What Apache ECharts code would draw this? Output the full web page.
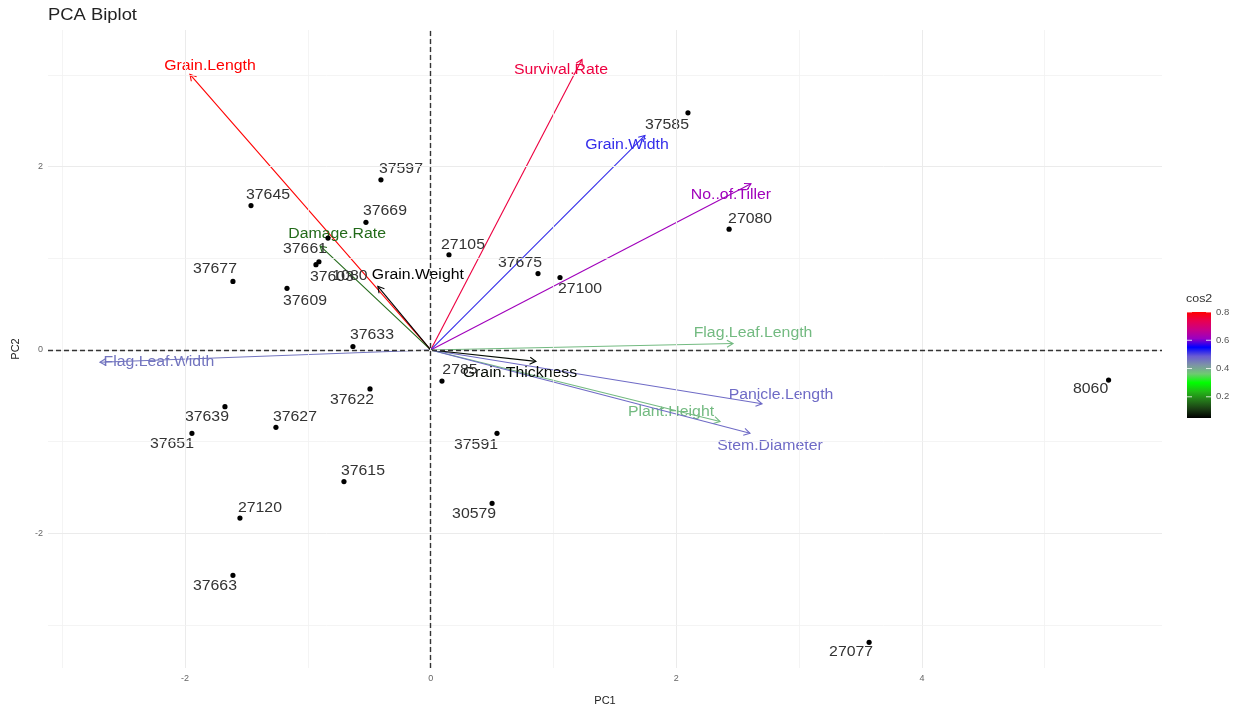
<!DOCTYPE html>
<html>
<head>
<meta charset="utf-8">
<title>PCA Biplot</title>
<script src="https://cdn.jsdelivr.net/npm/echarts@6/dist/echarts.min.js"></script>
<style>
  html, body { margin: 0; padding: 0; background: #ffffff; overflow: hidden; }
  #chart { width: 1241px; height: 711px; }
</style>
</head>
<body>
<div id="chart"></div>
<script>
// ---- Individuals (genotypes): scores on PC1 / PC2 ----
const genotypes = ['37585', '27080', '37675', '27100', '27105', '37597', '37669', '37645', '37661',
  '37603', '1080', '37677', '37609', '37633', '37622', '37639', '37627', '37651', '37615', '27120',
  '37663', '2785', '37591', '30579', '8060', '27077'];
const indPC1 = [2.095, 2.43, 0.874, 1.053, 0.149, -0.405, -0.527, -1.463, -0.836,
  -0.934, -0.91, -1.61, -1.17, -0.633, -0.494, -1.675, -1.26, -1.944, -0.706, -1.553,
  -1.61, 0.092, 0.54, 0.5, 5.52, 3.57];
const indPC2 = [2.586, 1.317, 0.833, 0.79, 1.038, 1.855, 1.392, 1.575, 1.22,
  0.93, 0.962, 0.747, 0.672, 0.038, -0.425, -0.618, -0.844, -0.909, -1.435, -1.833,
  -2.457, -0.339, -0.909, -1.672, -0.328, -3.188];

// ---- Variables: scaled loadings and quality of representation (cos2) ----
const variables = ['Grain.Length', 'Survival.Rate', 'Grain.Width', 'No..of.Tiller', 'Flag.Leaf.Length',
  'Panicle.Length', 'Plant.Height', 'Stem.Diameter', 'Grain.Thickness', 'Flag.Leaf.Width',
  'Damage.Rate', 'Grain.Weight'];
const varPC1 = [-1.96, 1.232, 1.745, 2.608, 2.462, 2.698, 2.356, 2.6, 0.857, -2.693, -0.9, -0.43];
const varPC2 = [3.005, 3.167, 2.339, 1.812, 0.07, -0.586, -0.78, -0.909, -0.124, -0.134, 1.134, 0.694];
const varCos2 = [0.80, 0.75, 0.52, 0.62, 0.38, 0.47, 0.38, 0.47, 0.06, 0.46, 0.16, 0.05];

// ---- Axis ticks and grid ----
const xTicks = [-2, 0, 2, 4];
const yTicks = [-2, 0, 2];
const xMinorGrid = [-3, -1, 1, 3, 5];
const yMinorGrid = [-3, -1, 1, 3];
const xRange = [-3.116, 5.955];
const yRange = [-3.468, 3.489];

// ---- cos2 colour scale ----
const cos2Range = [0.05, 0.80];
const cos2Ticks = [0.2, 0.4, 0.6, 0.8];
const cos2Colors = ['#000000', '#1a3c14', '#24781a', '#22b917', '#00ff00', '#6fc972', '#7d93a6',
  '#6a5bd3', '#0000ff', '#9a00c2', '#c90088', '#e80050', '#ff0000'];

// Label placement (pixel offsets from the mark, repelled so texts stay readable)
const indLabelOffset = {
  '37585': [-21, 12], '27080': [21, -10], '37675': [-18, -10], '27100': [20, 12], '27105': [14, -10],
  '37597': [20, -11], '37669': [19, -11], '37645': [17, -10], '37661': [-23, 11], '37603': [16, 12],
  '1080': [31, 14], '37677': [-18, -12], '37609': [18, 13], '37633': [19, -11], '37622': [-18, 11],
  '37639': [-18, 11], '37627': [19, -10], '37651': [-20, 11], '37615': [19, -10], '27120': [20, -10],
  '37663': [-18, 11], '2785': [18, -11], '37591': [-21, 12], '30579': [-18, 11], '8060': [-18, 9],
  '27077': [-18, 10]
};
const varLabelOffset = {
  'Grain.Length': [20, -8], 'Survival.Rate': [-21, 11], 'Grain.Width': [-18, 10],
  'No..of.Tiller': [-20, 11], 'Flag.Leaf.Length': [20, -10], 'Panicle.Length': [19, -9],
  'Plant.Height': [-49, -9], 'Stem.Diameter': [20, 13], 'Grain.Thickness': [-16, 12],
  'Flag.Leaf.Width': [59, 0], 'Damage.Rate': [17, -12], 'Grain.Weight': [40, -11]
};

const FONT = 'Liberation Sans';
const TEXT_STRETCH = 1.13;

const chart = echarts.init(document.getElementById('chart'), null, { renderer: 'canvas', width: 1241, height: 711 });

function gridLine(axisKey, v, major) {
  const item = {};
  item[axisKey] = v;
  item.lineStyle = { color: major ? '#ebebeb' : '#f1f1f1', width: major ? 1 : 0.8, type: 'solid' };
  return item;
}

const gridLines = []
  .concat(xTicks.map(v => gridLine('xAxis', v, true)))
  .concat(xMinorGrid.map(v => gridLine('xAxis', v, false)))
  .concat(yTicks.map(v => gridLine('yAxis', v, true)))
  .concat(yMinorGrid.map(v => gridLine('yAxis', v, false)));

function renderIndividual(params, api) {
  const i = api.value(2);
  const name = genotypes[i];
  const p = api.coord([api.value(0), api.value(1)]);
  const off = indLabelOffset[name] || [0, -10];
  return {
    type: 'group',
    children: [
      { type: 'circle', shape: { cx: p[0], cy: p[1], r: 2.6 }, style: { fill: '#000000' } },
      {
        type: 'text', x: p[0] + off[0], y: p[1] + off[1], scaleX: TEXT_STRETCH,
        style: {
          text: name, fill: '#333333', fontSize: 14, fontFamily: FONT,
          align: 'center', verticalAlign: 'middle'
        }
      }
    ]
  };
}

function renderVariable(params, api) {
  const i = api.value(3);
  const name = variables[i];
  const o = api.coord([0, 0]);
  const e = api.coord([api.value(0), api.value(1)]);
  const color = api.visual('color');
  const ang = Math.atan2(e[1] - o[1], e[0] - o[0]);
  const L = 7, h = Math.PI / 6;
  const p1 = [e[0] - L * Math.cos(ang - h), e[1] - L * Math.sin(ang - h)];
  const p2 = [e[0] - L * Math.cos(ang + h), e[1] - L * Math.sin(ang + h)];
  const off = varLabelOffset[name] || [0, -10];
  return {
    type: 'group',
    children: [
      { type: 'line', shape: { x1: o[0], y1: o[1], x2: e[0], y2: e[1] }, style: { stroke: color, lineWidth: 1.1 } },
      { type: 'polyline', shape: { points: [p1, e, p2] }, style: { stroke: color, lineWidth: 1.1, fill: null } },
      {
        type: 'text', x: e[0] + off[0], y: e[1] + off[1], scaleX: TEXT_STRETCH,
        style: {
          text: name, fill: color, fontSize: 14, fontFamily: FONT,
          align: 'center', verticalAlign: 'middle'
        }
      }
    ]
  };
}

// Colour bar for the cos2 legend
const bar = { x: 1187, y: 312, w: 24, h: 106 };
const barStops = cos2Colors.map((c, k) => ({ offset: k / (cos2Colors.length - 1), color: c }));
const legendGraphics = [
  {
    type: 'rect', shape: { x: bar.x, y: bar.y, width: bar.w, height: bar.h },
    style: { fill: new echarts.graphic.LinearGradient(0, 1, 0, 0, barStops) }
  },
  {
    type: 'text', x: 1186, y: 299, scaleX: TEXT_STRETCH,
    style: { text: 'cos2', fill: '#333333', fontSize: 11, fontFamily: FONT, verticalAlign: 'middle' }
  }
];
cos2Ticks.forEach(t => {
  const y = bar.y + bar.h - (t - cos2Range[0]) / (cos2Range[1] - cos2Range[0]) * bar.h;
  legendGraphics.push(
    { type: 'line', shape: { x1: bar.x, y1: y, x2: bar.x + 5, y2: y }, style: { stroke: '#ffffff', lineWidth: 1, opacity: 0.8 } },
    { type: 'line', shape: { x1: bar.x + bar.w - 5, y1: y, x2: bar.x + bar.w, y2: y }, style: { stroke: '#ffffff', lineWidth: 1, opacity: 0.8 } },
    {
      type: 'text', x: bar.x + bar.w + 5, y: y,
      style: { text: t.toFixed(1), fill: '#555555', fontSize: 9.5, fontFamily: FONT, verticalAlign: 'middle' }
    }
  );
});

const option = {
  backgroundColor: '#ffffff',
  animation: false,
  grid: { left: 48, top: 30, width: 1114, height: 647, containLabel: false },
  xAxis: {
    type: 'value', min: xRange[0], max: xRange[1],
    name: 'PC1', nameLocation: 'middle', nameGap: 27,
    nameTextStyle: { fontSize: 11, color: '#222222', fontFamily: FONT },
    axisLine: { show: false },
    axisTick: { show: true, customValues: xTicks, length: 4, lineStyle: { color: '#333333' } },
    axisLabel: { customValues: xTicks, fontSize: 9, color: '#666666', fontFamily: FONT, margin: 6 },
    splitLine: { show: false }
  },
  yAxis: {
    type: 'value', min: yRange[0], max: yRange[1],
    name: 'PC2', nameLocation: 'middle', nameGap: 27, nameRotate: 90,
    nameTextStyle: { fontSize: 11, color: '#222222', fontFamily: FONT },
    axisLine: { show: false },
    axisTick: { show: true, customValues: yTicks, length: 4, lineStyle: { color: '#333333' } },
    axisLabel: { customValues: yTicks, fontSize: 9, color: '#666666', fontFamily: FONT, margin: 5 },
    splitLine: { show: false }
  },
  visualMap: {
    type: 'continuous', show: false,
    min: cos2Range[0], max: cos2Range[1],
    dimension: 2, seriesIndex: 2,
    inRange: { color: cos2Colors }
  },
  graphic: [
    {
      type: 'text', x: 48, y: 16, scaleX: 1.15,
      style: { text: 'PCA Biplot', fill: '#222222', fontSize: 16, fontFamily: FONT, verticalAlign: 'middle' }
    }
  ].concat(legendGraphics),
  series: [
    {
      // background grid
      type: 'line', data: [], silent: true, z: 1,
      markLine: {
        silent: true, symbol: ['none', 'none'], animation: false,
        label: { show: false }, emphasis: { disabled: true },
        data: gridLines
      }
    },
    {
      // dashed reference lines through the origin
      type: 'line', data: [], silent: true, z: 2,
      markLine: {
        silent: true, symbol: ['none', 'none'], animation: false,
        label: { show: false }, emphasis: { disabled: true },
        lineStyle: { color: '#333333', width: 1.4, type: [5, 3] },
        data: [{ xAxis: 0 }, { yAxis: 0 }]
      }
    },
    {
      // variable arrows coloured by cos2
      type: 'custom', z: 3, clip: false, silent: true,
      renderItem: renderVariable,
      encode: { x: 0, y: 1 },
      data: variables.map((v, i) => [varPC1[i], varPC2[i], varCos2[i], i])
    },
    {
      // individuals
      type: 'custom', z: 4, clip: false, silent: true,
      renderItem: renderIndividual,
      encode: { x: 0, y: 1 },
      data: genotypes.map((g, i) => [indPC1[i], indPC2[i], i])
    }
  ]
};

chart.setOption(option);
</script>
</body>
</html>
